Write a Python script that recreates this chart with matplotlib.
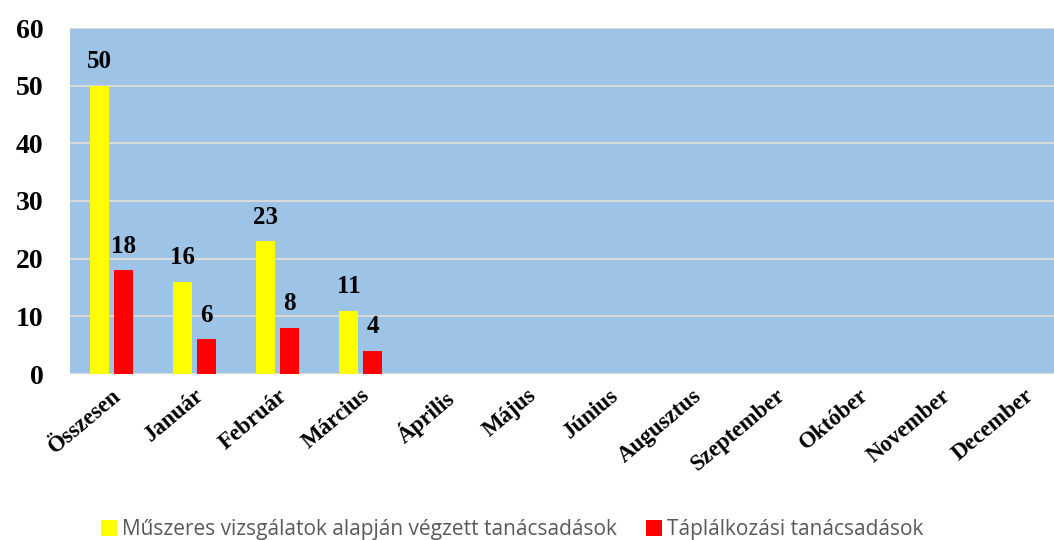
import matplotlib
matplotlib.use("Agg")
import matplotlib.pyplot as plt
import numpy as np
from matplotlib.patches import Patch

categories = ["Összesen", "Január", "Február", "Március", "Április", "Május",
              "Június", "Augusztus", "Szeptember", "Október", "November", "December"]
series1_name = "Műszeres vizsgálatok alapján végzett tanácsadások"
series2_name = "Táplálkozási tanácsadások"
series1 = [50, 16, 23, 11, None, None, None, None, None, None, None, None]
series2 = [18, 6, 8, 4, None, None, None, None, None, None, None, None]
yticks = [0, 10, 20, 30, 40, 50, 60]

serif = ["Liberation Serif", "DejaVu Serif"]
fig = plt.figure(figsize=(10.54, 5.4), dpi=100)
ax = fig.add_axes([70/1054, 1-374/540, 996/1054, (374-28)/540])
ax.set_facecolor("#9DC3E6")

x = np.arange(len(categories))
w = 0.225
off = 0.145
idx = [i for i, v in enumerate(series1) if v is not None]
v1 = [series1[i] for i in idx]
v2 = [series2[i] for i in idx]
b1 = ax.bar(x[idx] - off, v1, w, color="#FFFF00", zorder=3)
b2 = ax.bar(x[idx] + off, v2, w, color="#FF0000", zorder=3)
for bars, vals in ((b1, v1), (b2, v2)):
    for r, v in zip(bars, vals):
        ax.annotate(str(v), (r.get_x() + r.get_width()/2, v), xytext=(0, 9),
                    textcoords="offset points", ha="center", va="bottom",
                    fontsize=18, fontweight="bold", family=serif)

ax.set_xlim(-0.5, len(categories) - 0.5)
ax.set_ylim(0, 60)
ax.set_yticks(yticks)
ax.set_yticklabels([str(t) for t in yticks], fontsize=20, fontweight="bold", family=serif)
ax.set_xticks(x)
ax.set_xticklabels(categories, rotation=40, ha="right", rotation_mode="anchor",
                   fontsize=16.5, fontweight="bold", family=serif)
ax.tick_params(axis="both", length=0)
ax.tick_params(axis="x", pad=8)
ax.tick_params(axis="y", pad=19)
ax.yaxis.grid(True, color="#D9D9D9", linewidth=1.5, zorder=1)
ax.set_axisbelow(True)
for s in ax.spines.values():
    s.set_visible(False)

handles = [Patch(facecolor="#FFFF00", label=series1_name),
           Patch(facecolor="#FF0000", label=series2_name)]
fig.legend(handles=handles, loc="lower center", bbox_to_anchor=(0.486, -0.035), ncol=2,
           frameon=False, prop={"family": "Open Sans", "size": 15},
           labelcolor="#595959", handlelength=0.75, handleheight=0.75,
           handletextpad=0.25, columnspacing=1.4)

fig.savefig("out.png", dpi=100)
